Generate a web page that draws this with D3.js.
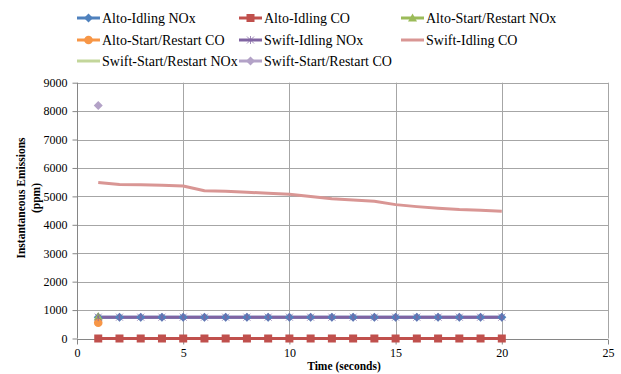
<!DOCTYPE html>
<html>
<head>
<meta charset="utf-8">
<script src="https://cdn.jsdelivr.net/npm/d3@7"></script>
<style>
  html, body { margin: 0; padding: 0; background: #ffffff; }
  svg { display: block; }
  text { font-family: "Liberation Serif", "Times New Roman", serif; fill: #000; }
</style>
</head>
<body>
<svg id="chart" width="621" height="374"></svg>
<script>
// Time axis (seconds)
const timeIdle = [1, 2, 3, 4, 5, 6, 7, 8, 9, 10, 11, 12, 13, 14, 15, 16, 17, 18, 19, 20];
const timeStart = [1];

// Emission series (ppm)
const altoIdlingNOx = [750, 750, 750, 750, 750, 750, 750, 750, 750, 750, 750, 750, 750, 750, 750, 750, 750, 750, 750, 750];
const altoIdlingCO = [0, 0, 0, 0, 0, 0, 0, 0, 0, 0, 0, 0, 0, 0, 0, 0, 0, 0, 0, 0];
const altoStartNOx = [770];
const altoStartCO = [555];
const swiftIdlingNOx = [750, 750, 750, 750, 750, 750, 750, 750, 750, 750, 750, 750, 750, 750, 750, 750, 750, 750, 750, 750];
const swiftIdlingCO = [5490, 5420, 5410, 5390, 5365, 5200, 5180, 5145, 5110, 5075, 4995, 4915, 4875, 4830, 4710, 4640, 4585, 4535, 4510, 4480];
const swiftStartNOx = [750];
const swiftStartCO = [8200];

// Axis ticks
const xTicks = [0, 5, 10, 15, 20, 25];
const yTicks = [0, 1000, 2000, 3000, 4000, 5000, 6000, 7000, 8000, 9000];

const seriesNames = [
  "Alto-Idling NOx", "Alto-Idling CO", "Alto-Start/Restart NOx", "Alto-Start/Restart CO",
  "Swift-Idling NOx", "Swift-Idling CO", "Swift-Start/Restart NOx", "Swift-Start/Restart CO"
];

const series = [
  { name: seriesNames[0], x: timeIdle, y: altoIdlingNOx, color: "#4F81BD", marker: "diamond" },
  { name: seriesNames[1], x: timeIdle, y: altoIdlingCO, color: "#C0504D", marker: "square" },
  { name: seriesNames[2], x: timeStart, y: altoStartNOx, color: "#9BBB59", marker: "triangle" },
  { name: seriesNames[3], x: timeStart, y: altoStartCO, color: "#F79646", marker: "circle" },
  { name: seriesNames[4], x: timeIdle, y: swiftIdlingNOx, color: "#8064A2", marker: "star" },
  { name: seriesNames[5], x: timeIdle, y: swiftIdlingCO, color: "#D99694", marker: null },
  { name: seriesNames[6], x: timeStart, y: swiftStartNOx, color: "#C3D69B", marker: null },
  { name: seriesNames[7], x: timeStart, y: swiftStartCO, color: "#B3A2C7", marker: "diamond" }
];

const svg = d3.select("#chart");

const plot = { left: 77, right: 608, top: 82.7, bottom: 338.5 };

const x = d3.scaleLinear().domain([0, 25]).range([plot.left, plot.right]);
const y = d3.scaleLinear().domain([0, 9000]).range([plot.bottom, plot.top]);

const gridColor = "#A6A6A6";
const axisColor = "#868686";

// Gridlines
svg.append("g").selectAll("line.h").data(yTicks.filter(d => d > 0)).join("line")
  .attr("x1", plot.left).attr("x2", plot.right)
  .attr("y1", d => Math.round(y(d)) + 0.5).attr("y2", d => Math.round(y(d)) + 0.5)
  .attr("stroke", gridColor).attr("stroke-width", 1);
svg.append("g").selectAll("line.v").data(xTicks.filter(d => d > 0)).join("line")
  .attr("x1", d => Math.round(x(d)) + 0.5).attr("x2", d => Math.round(x(d)) + 0.5)
  .attr("y1", plot.top).attr("y2", plot.bottom)
  .attr("stroke", gridColor).attr("stroke-width", 1);

// Axes
const xAxis = d3.axisBottom(x).tickValues(xTicks).tickSize(5).tickPadding(4).tickFormat(d3.format("d"));
const yAxis = d3.axisLeft(y).tickValues(yTicks).tickSize(5).tickPadding(5).tickFormat(d3.format("d"));

const gx = svg.append("g").attr("transform", `translate(0,${Math.round(plot.bottom) + 0.5})`).call(xAxis);
const gy = svg.append("g").attr("transform", `translate(${Math.round(plot.left) + 0.5},0)`).call(yAxis);
[gx, gy].forEach(g => {
  g.attr("font-family", null).attr("font-size", null);
  g.select(".domain").attr("stroke", axisColor);
  g.selectAll(".tick line").attr("stroke", axisColor);
  g.selectAll(".tick text").attr("font-size", 12).attr("fill", "#000");
});
gx.select(".domain").attr("d", `M${plot.left},0H${plot.right}`);
gy.select(".domain").attr("d", `M0,${plot.bottom}V${plot.top}`);

// Axis titles
svg.append("text")
  .attr("x", 344).attr("y", 370)
  .attr("text-anchor", "middle")
  .attr("font-size", 11.5).attr("font-weight", "bold")
  .text("Time (seconds)");

const yTitle = svg.append("text")
  .attr("transform", "translate(25,198) rotate(-90)")
  .attr("text-anchor", "middle")
  .attr("font-size", 11.5).attr("font-weight", "bold");
yTitle.append("tspan").attr("x", 0).attr("dy", 0).text("Instantaneous Emissions");
yTitle.append("tspan").attr("x", 0).attr("dy", 15).text("(ppm)");

// Marker shapes
function drawMarker(g, type, color, cx, cy) {
  if (!type) return;
  if (type === "diamond") {
    const s = 4.5;
    g.append("path").attr("d", `M${cx},${cy - s}L${cx + s},${cy}L${cx},${cy + s}L${cx - s},${cy}Z`).attr("fill", color);
  } else if (type === "square") {
    const s = 4;
    g.append("rect").attr("x", cx - s).attr("y", cy - s).attr("width", 2 * s).attr("height", 2 * s).attr("fill", color);
  } else if (type === "triangle") {
    const s = 4.5;
    g.append("path").attr("d", `M${cx},${cy - s}L${cx + s},${cy + s * 0.8}L${cx - s},${cy + s * 0.8}Z`).attr("fill", color);
  } else if (type === "circle") {
    g.append("circle").attr("cx", cx).attr("cy", cy).attr("r", 4.3).attr("fill", color);
  } else if (type === "star") {
    const s = 3.5;
    g.append("path")
      .attr("d", `M${cx - s},${cy - s}L${cx + s},${cy + s}M${cx - s},${cy + s}L${cx + s},${cy - s}M${cx},${cy - s - 0.5}L${cx},${cy + s + 0.5}`)
      .attr("stroke", color).attr("stroke-width", 1).attr("stroke-opacity", 0.75).attr("fill", "none");
  }
}

const line = d3.line().x(d => x(d[0])).y(d => y(d[1]));

// Series lines
const linesG = svg.append("g");
series.forEach(s => {
  const pts = s.x.map((t, i) => [t, s.y[i]]);
  if (pts.length > 1) {
    linesG.append("path").datum(pts).attr("d", line)
      .attr("fill", "none").attr("stroke", s.color).attr("stroke-width", 3)
      .attr("stroke-linejoin", "round");
  }
});

// Series markers
const markersG = svg.append("g");
series.forEach(s => {
  s.x.forEach((t, i) => drawMarker(markersG, s.marker, s.color, x(t), y(s.y[i])));
});

// Legend
const legendCols = [77, 239, 401];
const legendRows = [18, 40, 61];
const legendG = svg.append("g");
series.forEach((s, i) => {
  const cx = legendCols[i % 3];
  const cy = legendRows[Math.floor(i / 3)];
  const g = legendG.append("g");
  g.append("line").attr("x1", cx).attr("x2", cx + 23).attr("y1", cy).attr("y2", cy)
    .attr("stroke", s.color).attr("stroke-width", 3);
  drawMarker(g, s.marker, s.color, cx + 11.5, cy);
  g.append("text").attr("x", cx + 25).attr("y", cy).attr("dy", "0.35em")
    .attr("font-size", 14).text(s.name);
});
</script>
</body>
</html>
